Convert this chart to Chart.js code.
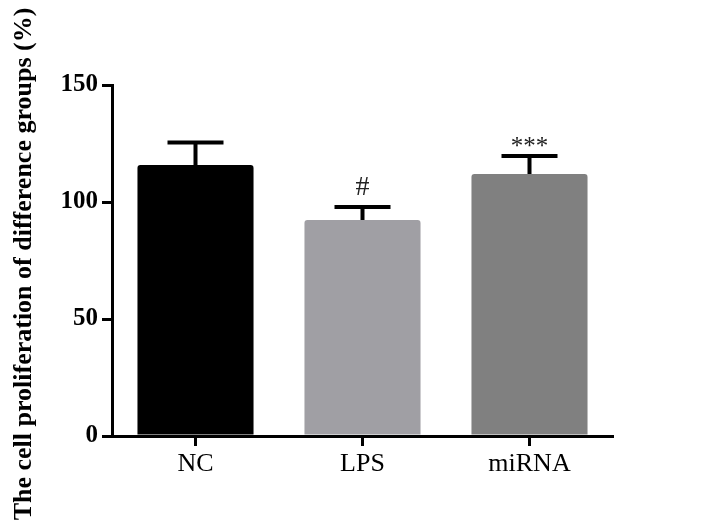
<!DOCTYPE html>
<html>
<head>
<meta charset="utf-8">
<script src="https://cdn.jsdelivr.net/npm/chart.js@4.4.1/dist/chart.umd.min.js"></script>
<style>
  html, body { margin: 0; padding: 0; background: #fff; }
  #wrap { width: 708px; height: 523px; position: relative; }
</style>
</head>
<body>
<div id="wrap"><canvas id="chart" width="708" height="523"></canvas></div>
<script>
// data
const groups = ["NC", "LPS", "miRNA"];
const means = [115.8, 92.3, 112.0];
const errors = [9.6, 5.6, 7.7];
const marks = ["", "#", "***"];
const barColors = ["#000000", "#a09fa4", "#808080"];
const yTicks = [0, 50, 100, 150];

const serif = '"Liberation Serif", "Times New Roman", serif';

// error bars, significance marks, x tick marks at bar centres
const errorBarPlugin = {
    id: "errorBars",
    afterDraw(chart) {
        const ctx = chart.ctx;
        const x = chart.scales.x;
        const y = chart.scales.y;
        const base = chart.chartArea.bottom;
        ctx.save();
        ctx.strokeStyle = "#000";
        ctx.lineCap = "butt";

        // x ticks
        ctx.lineWidth = 3;
        groups.forEach((g, i) => {
            const cx = x.getPixelForValue(i);
            ctx.beginPath();
            ctx.moveTo(cx, base);
            ctx.lineTo(cx, base + 10);
            ctx.stroke();
        });

        ctx.lineWidth = 4;
        means.forEach((m, i) => {
            const cx = x.getPixelForValue(i);
            const top = y.getPixelForValue(m);
            const cap = y.getPixelForValue(m + errors[i]);
            ctx.beginPath();
            ctx.moveTo(cx, top);
            ctx.lineTo(cx, cap);
            ctx.moveTo(cx - 28, cap);
            ctx.lineTo(cx + 28, cap);
            ctx.stroke();

            if (marks[i]) {
                ctx.fillStyle = "#222";
                ctx.textAlign = "center";
                ctx.textBaseline = "alphabetic";
                if (marks[i] === "#") {
                    ctx.font = "28px " + serif;
                    ctx.fillText(marks[i], cx, cap - 12);
                } else {
                    ctx.font = "25px " + serif;
                    ctx.fillText(marks[i], cx, cap - 2);
                }
            }
        });

        // rotated y title
        ctx.translate(24, 264);
        ctx.rotate(-Math.PI / 2);
        ctx.font = "bold 26px " + serif;
        ctx.fillStyle = "#000";
        ctx.textAlign = "center";
        ctx.textBaseline = "middle";
        ctx.fillText("The cell proliferation of difference groups (%)", 0, 0);
        ctx.restore();
    }
};

new Chart(document.getElementById("chart"), {
    type: "bar",
    data: {
        labels: groups,
        datasets: [{
            data: means,
            backgroundColor: barColors,
            borderWidth: 0,
            borderRadius: 3,
            borderSkipped: "bottom",
            categoryPercentage: 1,
            barPercentage: 0.695
        }]
    },
    options: {
        responsive: false,
        animation: false,
        events: [],
        layout: { padding: { top: 85, right: 95, left: 0, bottom: 0 } },
        plugins: {
            legend: { display: false },
            tooltip: { enabled: false }
        },
        scales: {
            x: {
                afterFit(scale) { scale.height = 87; },
                grid: { display: false, drawTicks: false },
                border: { display: true, width: 3, color: "#000" },
                ticks: {
                    color: "#000",
                    padding: 13,
                    font: { family: serif, size: 26 }
                }
            },
            y: {
                min: 0,
                max: 150,
                afterFit(scale) { scale.width = 112; },
                afterBuildTicks(scale) {
                    scale.ticks = yTicks.map(v => ({ value: v }));
                },
                grid: {
                    display: true,
                    drawOnChartArea: false,
                    drawTicks: true,
                    tickLength: 10,
                    lineWidth: 3,
                    color: "#000"
                },
                border: { display: true, width: 3, color: "#000" },
                ticks: {
                    color: "#000",
                    padding: 4,
                    font: { family: serif, size: 25, weight: "bold" }
                }
            }
        }
    },
    plugins: [errorBarPlugin]
});
</script>
</body>
</html>
